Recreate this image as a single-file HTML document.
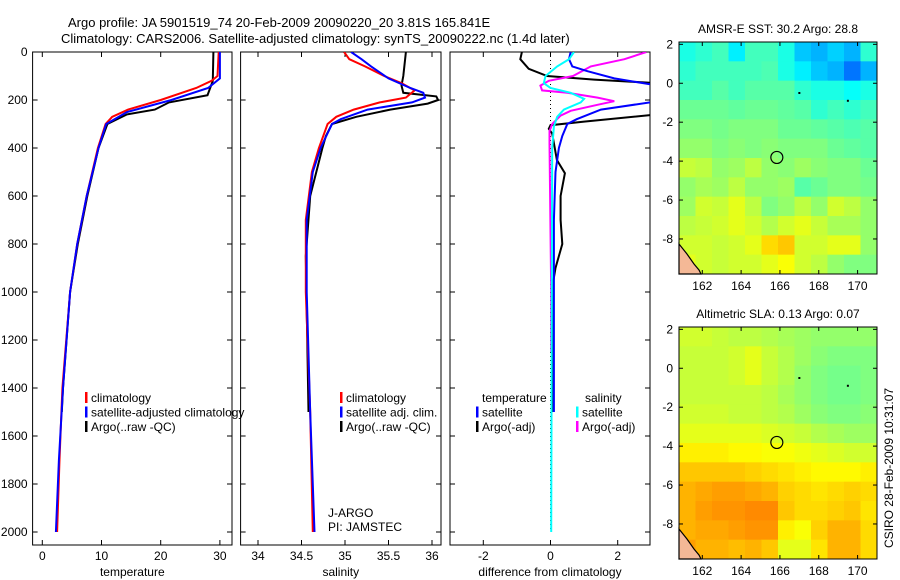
<!DOCTYPE html>
<html><head><meta charset="utf-8"><style>
html,body{margin:0;padding:0;background:#fff;}
svg{display:block;font-family:"Liberation Sans",sans-serif;}
text{font-size:12px;fill:#000;}
</style></head><body>
<svg id="fig" width="900" height="580" viewBox="0 0 900 580" xmlns="http://www.w3.org/2000/svg">
<text x="68" y="27" style="font-size:13px">Argo profile: JA 5901519_74 20-Feb-2009 20090220_20 3.81S 165.841E</text>
<text x="61" y="43" style="font-size:13px">Climatology: CARS2006. Satellite-adjusted climatology: synTS_20090222.nc (1.4d later)</text>
<text transform="translate(893,468) rotate(-90)" text-anchor="middle">CSIRO 28-Feb-2009 10:31:07</text>
</svg>
<script>
// ---------- data ----------
const depthTicks=[0,200,400,600,800,1000,1200,1400,1600,1800,2000];
const tempTicks=[0,10,20,30];
const salTicks=[34,34.5,35,35.5,36];
const salTickLabels=["34","34.5","35","35.5","36"];
const diffTicks=[-2,0,2];
const tClimD=[0,100,120,150,200,240,270,300,400,600,800,1000,1400,1700,2000];
const tClimV=[29.8,29.6,28.6,26,20,14.5,11.8,10.7,9.4,7.5,5.9,4.7,3.4,2.9,2.5];
const tSatD=[0,110,150,200,250,300,400,600,800,1000,1400,1700,2000];
const tSatV=[30.0,30.0,28,21.8,14.3,10.8,9.5,7.5,5.9,4.7,3.5,2.8,2.3];
const tArgoD=[0,120,180,210,240,260,300,400,600,800,1000,1400,1500];
const tArgoV=[28.9,28.8,27.9,21.4,19,14.3,11,9.5,7.6,6.0,4.7,3.5,3.3];
const sClimD=[0,30,60,100,130,160,190,210,240,270,300,400,500,700,1000,1500,2000];
const sClimV=[34.99,35.05,35.23,35.45,35.65,35.8,35.7,35.4,35.1,34.9,34.8,34.7,34.62,34.55,34.55,34.6,34.63];
const sSatD=[0,30,60,110,150,170,190,210,240,280,300,400,500,700,1000,1500,2000];
const sSatV=[35.07,35.19,35.3,35.5,35.75,35.9,35.92,35.77,35.26,34.95,34.85,34.72,34.63,34.56,34.56,34.6,34.65];
const sArgoD=[0,100,140,170,185,200,215,240,270,300,350,400,600,850,1500];
const sArgoV=[35.7,35.67,35.65,35.67,36.05,36.07,35.95,35.52,35.13,34.85,34.78,34.74,34.6,34.55,34.58];
const dTSatD=[0,30,60,80,110,140,205,240,280,300,350,400,500,700,1000,1500];
const dTSatV=[0.6,0.55,0.65,1.1,1.9,3.2,3.2,1.5,0.78,0.5,0.35,0.25,0.15,0.1,0.1,0.1];
const dTArgoD=[0,30,70,100,115,130,260,290,305,320,340,450,505,600,700,800,900,950,1400,1500];
const dTArgoV=[-0.85,-0.9,-0.65,-0.1,1.3,3.2,3.2,1.0,0,-0.05,0.05,0.19,0.43,0.3,0.3,0.35,0.15,0.09,0.05,0.05];
const dSSatD=[0,30,60,100,130,150,170,195,210,240,270,310,400,2000];
const dSSatV=[0.7,0.55,0.2,-0.15,-0.2,0,0.6,1.0,0.9,0.4,0.2,0.1,0.05,0.02];
const dSArgoD=[0,30,60,100,120,140,160,170,190,205,220,245,265,300,330,380,1000,1250];
const dSArgoV=[2.85,2.2,1.2,0.67,-0.05,-0.3,-0.25,0.5,1.4,1.9,1.4,0.6,0.3,0.05,-0.03,-0.03,0.02,0.02];
const lonTicks=[162,164,166,168,170];
const latTicks=[2,0,-2,-4,-6,-8];
const sstGrid=[
[40,42,44,36,44,44,40,32,30,33,30,42],
[42,44,44,44,44,45,40,36,32,30,24,30],
[44,44,46,44,46,46,46,42,40,40,38,40],
[48,48,48,47,48,48,47,46,42,44,42,44],
[50,50,49,50,50,50,48,48,47,46,45,46],
[52,52,50,51,50,51,50,50,50,48,47,46],
[57,56,52,53,56,52,51,53,51,50,50,48],
[52,54,53,56,52,52,53,46,48,50,50,49],
[53,58,57,60,56,50,52,56,52,58,56,52],
[56,57,58,60,58,55,58,60,57,54,54,52],
[58,58,57,58,60,66,68,58,58,60,60,52],
[60,58,57,58,58,60,62,58,56,52,50,50]];
const slaGrid=[
[58,58,57,56,56,55,54,53,52,52,52,52],
[57,57,57,58,60,57,55,53,51,50,50,50],
[57,57,57,58,60,57,55,52,50,49,49,50],
[57,57,57,57,57,56,54,52,50,49,49,50],
[58,58,58,57,57,56,55,53,51,50,50,51],
[60,60,60,60,60,59,58,57,55,54,53,53],
[64,64,64,63,63,62,62,61,60,59,58,58],
[68,68,68,68,67,66,65,64,63,63,63,64],
[70,71,72,72,71,70,67,66,65,66,67,66],
[70,72,73,73,74,74,68,66,66,67,68,65],
[70,71,71,72,73,73,64,62,67,70,70,66],
[72,70,70,69,70,68,60,60,65,70,70,66]];
const argoLon=165.84, argoLat=-3.81;

// ---------- helpers ----------
const NS="http://www.w3.org/2000/svg";
const svg=document.getElementById('fig');
function mk(tag,attrs,parent){const e=document.createElementNS(NS,tag);for(const k in attrs)e.setAttribute(k,attrs[k]);(parent||svg).appendChild(e);return e;}
const yD=d=>52+d*0.24;
const PT={x0:32.6,x1:232,v2x:v=>42.3+v*5.92};
const PS={x0:240.6,x1:441,v2x:v=>258+(v-34)*87};
const PD={x0:450,x1:650,v2x:v=>550.5+v*33.6};
const TOP=52,BOT=545;
const defs=mk('defs',{});
function panel(P,id,xticks,xlabels,xtitle,showY){
  const cp=mk('clipPath',{id:id},defs);
  mk('rect',{x:P.x0,y:TOP,width:P.x1-P.x0,height:BOT-TOP},cp);
  const g=mk('g',{});
  
  
  mk('rect',{x:P.x0,y:TOP,width:P.x1-P.x0,height:BOT-TOP,fill:'none',stroke:'#000','stroke-width':1},g);
  depthTicks.forEach(d=>{
    const y=yD(d);
    mk('line',{x1:P.x0,x2:P.x0+5,y1:y,y2:y,stroke:'#000'},g);
    mk('line',{x1:P.x1,x2:P.x1-5,y1:y,y2:y,stroke:'#000'},g);
    if(showY){const t=mk('text',{x:P.x0-5,y:y+4,'text-anchor':'end'},g);t.textContent=d;
      
      }
  });
  xticks.forEach((v,i)=>{
    const x=P.v2x(v);
    mk('line',{x1:x,x2:x,y1:BOT,y2:BOT-5,stroke:'#000'},g);
    mk('line',{x1:x,x2:x,y1:TOP,y2:TOP+5,stroke:'#000'},g);
    const t=mk('text',{x:x,y:560,'text-anchor':'middle'},g);t.textContent=xlabels[i];
    
    
  });
  const tt=mk('text',{x:(P.x0+P.x1)/2,y:576,'text-anchor':'middle'},g);tt.textContent=xtitle;
  
  
  return g;
}
function series(P,clip,D,V,color,name){
  const pts=D.map((d,i)=>P.v2x(V[i]).toFixed(1)+','+yD(d).toFixed(1)).join(' ');
  const e=mk('polyline',{points:pts,fill:'none',stroke:color,'stroke-width':2,'clip-path':'url(#'+clip+')'});
  
  
}
function legend(x,y,items){
  items.forEach((it,i)=>{
    const yy=y+i*14.5;
    mk('rect',{x:x,y:yy-10,width:2.5,height:11,fill:it[0]});
    const t=mk('text',{x:x+6,y:yy});t.textContent=it[1];
    
    
  });
}

// temperature
panel(PT,'clip-temperature',tempTicks,tempTicks.map(String),'temperature',true);
series(PT,'clip-temperature',tArgoD,tArgoV,'#000','temp-argo-line');
series(PT,'clip-temperature',tClimD,tClimV,'#f00','temp-climatology-line');
series(PT,'clip-temperature',tSatD,tSatV,'#00f','temp-satellite-line');
legend(85,402,[['#f00','climatology'],['#00f','satellite-adjusted climatology'],['#000','Argo(..raw -QC)']]);
// salinity
panel(PS,'clip-salinity',salTicks,salTickLabels,'salinity',false);
series(PS,'clip-salinity',sArgoD,sArgoV,'#000','sal-argo-line');
series(PS,'clip-salinity',sClimD,sClimV,'#f00','sal-climatology-line');
series(PS,'clip-salinity',sSatD,sSatV,'#00f','sal-satellite-line');
legend(340,402,[['#f00','climatology'],['#00f','satellite adj. clim.'],['#000','Argo(..raw -QC)']]);
{const t=mk('text',{x:328,y:517});t.textContent='J-ARGO';
 const t2=mk('text',{x:328,y:531});t2.textContent='PI: JAMSTEC';}
// difference
panel(PD,'clip-difference',diffTicks,diffTicks.map(String),'difference from climatology',false);
{const z=mk('line',{x1:PD.v2x(0),x2:PD.v2x(0),y1:yD(0),y2:yD(2000),stroke:'#000','stroke-dasharray':'1,3','stroke-width':1});
 }
series(PD,'clip-difference',dTArgoD,dTArgoV,'#000','diff-temp-argo-line');
series(PD,'clip-difference',dSArgoD,dSArgoV,'#f0f','diff-sal-argo-line');
series(PD,'clip-difference',dTSatD,dTSatV,'#00f','diff-temp-satellite-line');
series(PD,'clip-difference',dSSatD,dSSatV,'#0ff','diff-sal-satellite-line');
{const t=mk('text',{x:482,y:402});t.textContent='temperature';
 const t2=mk('text',{x:585,y:402});t2.textContent='salinity';}
legend(476,416.5,[['#00f','satellite'],['#000','Argo(-adj)']]);
legend(576,416.5,[['#0ff','satellite'],['#f0f','Argo(-adj)']]);

// ---------- maps ----------
function jet(v){const c=x=>Math.round(255*Math.max(0,Math.min(1,x)));
  return 'rgb('+c(1.5-Math.abs(4*v-3))+','+c(1.5-Math.abs(4*v-2))+','+c(1.5-Math.abs(4*v-1))+')';}
function map(top,grid,title,name){
  const M={x0:679,x1:877,y0:top,y1:top+232,lon0:160.8,lon1:171.0,lat0:2.12,lat1:-9.8};
  const lx=l=>M.x0+(l-M.lon0)/(M.lon1-M.lon0)*(M.x1-M.x0);
  const ly=l=>M.y0+(l-M.lat0)/(M.lat1-M.lat0)*(M.y1-M.y0);
  const g=mk('g',{});
  
  
  const rows=grid.length,cols=grid[0].length;
  const cw=(M.x1-M.x0)/cols,ch=(M.y1-M.y0)/rows;
  grid.forEach((row,r)=>row.forEach((v,c)=>{
    const cell=mk('rect',{x:M.x0+c*cw,y:M.y0+r*ch,width:cw+0.5,height:ch+0.5,fill:jet(v/100)},g);
    
    
  }));
  mk('path',{d:`M${M.x0},${M.y1-30} L${M.x0+8},${M.y1-20} L${M.x0+15},${M.y1-10} L${M.x0+20},${M.y1-4} L${M.x0+22},${M.y1} L${M.x0},${M.y1} Z`,fill:'#f4b896',stroke:'#000','stroke-width':1.2},g);
  mk('circle',{cx:lx(argoLon),cy:ly(argoLat),r:6,fill:'none',stroke:'#000','stroke-width':1.2},g);
  mk('rect',{x:lx(167)-1,y:ly(-0.5)-1,width:2,height:2,fill:'#000'},g);
  mk('rect',{x:lx(169.5)-1,y:ly(-0.9)-1,width:2,height:2,fill:'#000'},g);
  mk('rect',{x:M.x0,y:M.y0,width:M.x1-M.x0,height:M.y1-M.y0,fill:'none',stroke:'#000'},g);
  lonTicks.forEach(l=>{const x=lx(l);
    mk('line',{x1:x,x2:x,y1:M.y1,y2:M.y1-4,stroke:'#000'},g);
    mk('line',{x1:x,x2:x,y1:M.y0,y2:M.y0+4,stroke:'#000'},g);
    const t=mk('text',{x:x,y:M.y1+16,'text-anchor':'middle'},g);t.textContent=l;
    
    });
  latTicks.forEach(l=>{const y=ly(l);
    mk('line',{x1:M.x0,x2:M.x0+4,y1:y,y2:y,stroke:'#000'},g);
    mk('line',{x1:M.x1,x2:M.x1-4,y1:y,y2:y,stroke:'#000'},g);
    const t=mk('text',{x:M.x0-6,y:y+4,'text-anchor':'end'},g);t.textContent=l;
    
    });
  const tt=mk('text',{x:(M.x0+M.x1)/2,y:M.y0-9,'text-anchor':'middle'},g);tt.textContent=title;
  
  
}
map(42,sstGrid,'AMSR-E SST: 30.2 Argo: 28.8','sst-map');
map(327,slaGrid,'Altimetric SLA: 0.13 Argo: 0.07','sla-map');
</script>
</body></html>
